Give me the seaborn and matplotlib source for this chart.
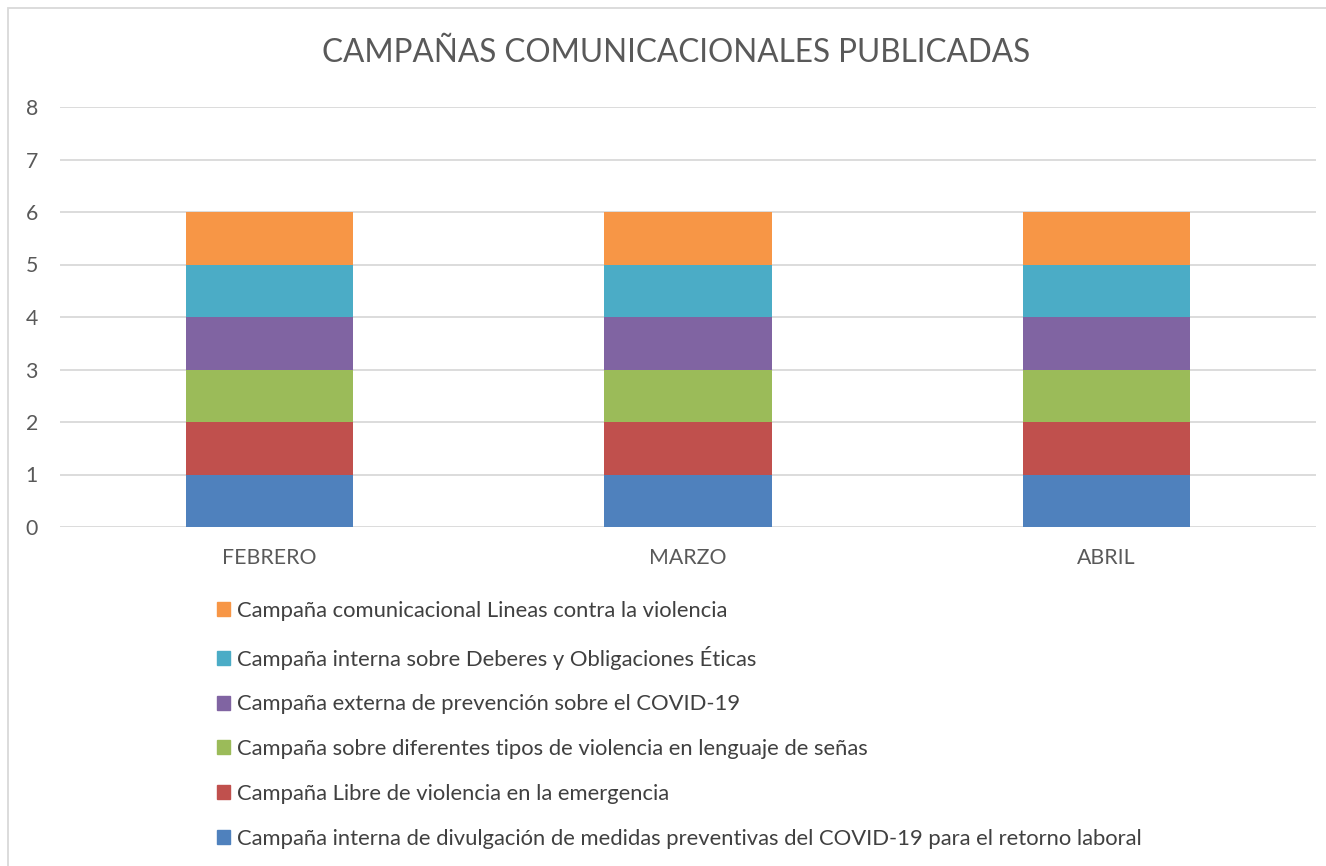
import matplotlib
matplotlib.use("Agg")
import matplotlib.pyplot as plt
import matplotlib.patches as mpatches
import seaborn as sns
import pandas as pd
import numpy as np

months = ["FEBRERO", "MARZO", "ABRIL"]
series_names = [
    "Campaña interna de divulgación de medidas preventivas del COVID-19 para el retorno laboral",
    "Campaña Libre de violencia en la emergencia",
    "Campaña sobre diferentes tipos de violencia en lenguaje de señas",
    "Campaña externa de prevención sobre el COVID-19",
    "Campaña interna sobre Deberes y Obligaciones Éticas",
    "Campaña comunicacional Lineas contra la violencia",
]
values = {
    series_names[0]: [1, 1, 1],
    series_names[1]: [1, 1, 1],
    series_names[2]: [1, 1, 1],
    series_names[3]: [1, 1, 1],
    series_names[4]: [1, 1, 1],
    series_names[5]: [1, 1, 1],
}
colors = ["#4F81BD", "#C0504D", "#9BBB59", "#8064A2", "#4BACC6", "#F79646"]
title = "CAMPAÑAS COMUNICACIONALES PUBLICADAS"
yticks = [0, 1, 2, 3, 4, 5, 6, 7, 8]

sns.set_theme(style="white")
plt.rcParams["font.family"] = ["Lato", "DejaVu Sans"]

W, H = 1326, 866
fig = plt.figure(figsize=(W / 100, H / 100), dpi=100)
ax = fig.add_axes([60 / W, 1 - 527 / H, (1316 - 60) / W, (527 - 107) / H])

# cumulative stacks
df = pd.DataFrame(values, index=months)
cum = df.cumsum(axis=1)
for i in range(len(series_names) - 1, -1, -1):
    name = series_names[i]
    d = pd.DataFrame({"month": months, "value": cum[name].values})
    sns.barplot(data=d, x="month", y="value", color=colors[i], width=0.4,
                saturation=1, ax=ax, linewidth=0, zorder=3)

ax.set_ylim(0, 8)
ax.set_xlim(-0.5, 2.5)
ax.set_yticks(yticks)
ax.grid(axis="y", color="#D9D9D9", linewidth=1.3, zorder=0)
ax.set_axisbelow(True)
for s in ax.spines.values():
    s.set_visible(False)
ax.set_xlabel("")
ax.set_ylabel("")
ax.tick_params(axis="both", length=0, labelsize=15.3, colors="#595959", pad=0)
ax.tick_params(axis="x", pad=15)
ax.tick_params(axis="y", pad=16)

fig.text(676 / W, 1 - 53 / H, title, ha="center", va="center",
         fontsize=22.7, color="#595959")

handles = [mpatches.Patch(color=colors[i], label=series_names[i])
           for i in range(len(series_names) - 1, -1, -1)]
leg = fig.legend(handles=handles, loc="upper left",
                 bbox_to_anchor=(208 / W, 1 - 592 / H), frameon=False,
                 fontsize=15.8, handlelength=0.6, handleheight=0.6,
                 handletextpad=0.3, labelspacing=1.13, borderaxespad=0)
for t in leg.get_texts():
    t.set_color("#404040")

border = mpatches.Rectangle((8 / W, -0.01), 1.02, 1 - 8 / H + 0.01, transform=fig.transFigure,
                            fill=False, edgecolor="#D9D9D9", linewidth=1.3)
fig.patches.append(border)

fig.savefig("out.png", dpi=100, facecolor="white")
